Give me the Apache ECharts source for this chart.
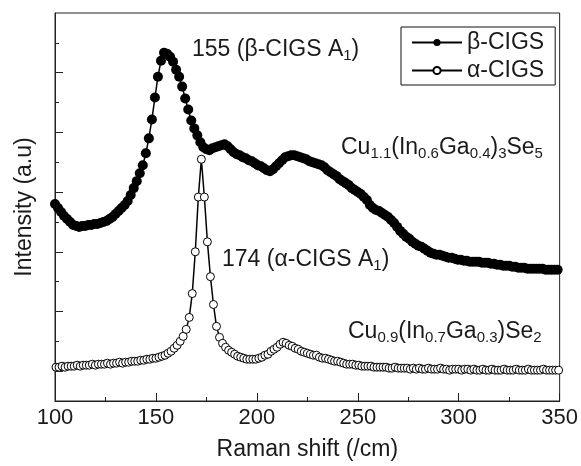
<!DOCTYPE html>
<html>
<head>
<meta charset="utf-8">
<script src="https://cdn.jsdelivr.net/npm/echarts@6/dist/echarts.min.js"></script>
<style>
html,body{margin:0;padding:0;background:#fff;}
#c{width:581px;height:466px;}
</style>
</head>
<body>
<div id="c"></div>
<script>
// Raman shift sampling (cm^-1)
const betaStart = 100, alphaStart = 100.5, shiftStep = 1.5;
// beta-CIGS intensity (a.u.), one value every 1.5 cm^-1 from 100 to 349
const betaIntensity = [
198,194,190,186,183,180,177,176,175,176,176,177,177,178,178,179,180,181,183,185,
188,191,194,197,201,207,214,221,229,237,249,264,283,305,326,342,350,349,346,341,
333,326,316,304,293,282,274,267,260,255,253,252,254,255,256,257,258,256,253,250,
248,247,245,244,242,241,239,237,236,234,232,231,233,236,239,242,245,246,247,247,
246,245,244,243,241,240,239,238,237,235,232,230,228,226,223,221,219,217,214,212,
210,208,205,202,197,194,192,191,189,187,185,182,179,175,171,168,165,163,160,158,
156,155,153,151,149,148,147,147,146,145,144,144,143,142,142,141,141,140,140,140,
140,139,139,139,138,138,137,137,136,136,136,135,135,134,134,134,133,133,133,133,
133,133,132,132,132,132,132
];
// alpha-CIGS intensity (a.u.), one value every 1.5 cm^-1 from 100.5 to 349.5
const alphaIntensity = [
34,34,35,34,35,35,35,36,35,36,36,36,37,36,37,37,37,38,37,38,
38,39,38,39,39,40,40,40,41,41,42,42,43,43,44,45,46,48,50,53,
56,60,65,72,84,108,150,205,243,205,160,125,97,75,64,58,54,51,49,47,
45,44,43,42,42,42,42,43,44,46,47,50,52,54,57,59,58,56,55,53,
52,50,49,48,47,46,46,44,43,43,42,41,40,40,39,38,37,37,37,36,
36,35,35,35,35,34,34,34,34,34,33,33,34,33,33,33,33,32,33,32,
33,32,32,33,32,32,32,33,32,32,31,32,32,32,31,32,32,31,32,31,
31,32,31,31,32,31,31,31,32,31,31,31,32,31,31,31,32,31,31,31,
31,32,31,31,31,31,31
];
const seriesNames = ['β-CIGS', 'α-CIGS'];
const xTicks = [100, 150, 200, 250, 300, 350];
const yMajorTicks = [30, 90, 150, 210, 270, 330];
const yMinorTicks = [60, 120, 180, 240, 300, 360];

function pairs(start, vals) {
  return vals.map((v, i) => [+(start + i * shiftStep).toFixed(2), v]);
}

const FONT = "'Liberation Sans', Arial, sans-serif";
const chart = echarts.init(document.getElementById('c'), null, {renderer: 'canvas'});

const richSub = {
  s: {fontSize: 15, fontFamily: FONT, fill: '#1a1a1a', verticalAlign: 'bottom', lineHeight: 16}
};
function annot(left, top, text) {
  return {
    type: 'text', left: left, top: top, z: 100,
    style: {
      text: text, fontSize: 23, fontFamily: FONT, fill: '#1a1a1a',
      lineHeight: 26, rich: richSub
    }
  };
}

const betaData = pairs(betaStart, betaIntensity);
const alphaData = pairs(alphaStart, alphaIntensity);
const betaItem = {color: '#000', borderColor: '#000', borderWidth: 0};
const alphaItem = {color: '#fff', borderColor: '#000', borderWidth: 1};

chart.setOption({
  animation: false,
  backgroundColor: '#fff',
  grid: {left: 55, right: 17, top: 13, bottom: 63, show: true, borderColor: '#222', borderWidth: 1, backgroundColor: 'transparent'},
  legend: {
    data: seriesNames,
    orient: 'vertical',
    left: 401, top: 27,
    padding: [4, 11, 3, 10],
    itemGap: 5,
    itemWidth: 50, itemHeight: 9,
    borderColor: '#111', borderWidth: 1,
    textStyle: {fontSize: 23, fontFamily: FONT, color: '#1a1a1a', lineHeight: 22}
  },
  xAxis: {
    type: 'value', min: 100, max: 350, interval: 50,
    name: 'Raman shift (/cm)', nameLocation: 'middle', nameGap: 37,
    nameTextStyle: {fontSize: 23, fontFamily: FONT, color: '#1a1a1a'},
    axisLine: {show: true, lineStyle: {color: '#222', width: 1}},
    axisTick: {show: true, inside: true, length: 8, lineStyle: {color: '#222'}},
    minorTick: {show: true, splitNumber: 2, length: 4, lineStyle: {color: '#222'}},
    axisLabel: {fontSize: 22, fontFamily: FONT, color: '#1a1a1a', margin: 6,
      customValues: xTicks},
    splitLine: {show: false}
  },
  yAxis: [{
    type: 'value', min: 0, max: 390,
    name: 'Intensity (a.u)', nameLocation: 'middle', nameGap: 19,
    nameTextStyle: {fontSize: 23, fontFamily: FONT, color: '#1a1a1a'},
    axisLine: {show: true, lineStyle: {color: '#222', width: 1}},
    axisTick: {show: true, inside: true, length: 8, customValues: yMajorTicks, lineStyle: {color: '#222'}},
    axisLabel: {show: false},
    splitLine: {show: false}
  }, {
    type: 'value', min: 0, max: 390, position: 'left', offset: 0,
    axisLine: {show: false},
    axisTick: {show: true, inside: true, length: 4, customValues: yMinorTicks, lineStyle: {color: '#222'}},
    axisLabel: {show: false},
    splitLine: {show: false}
  }],
  series: [{
    name: seriesNames[0], type: 'line', yAxisIndex: 0,
    data: betaData,
    symbol: 'circle', symbolSize: 10, showAllSymbol: true,
    itemStyle: betaItem,
    lineStyle: {color: '#000', width: 1.5},
    z: 2
  }, {
    name: seriesNames[1], type: 'line', yAxisIndex: 0,
    data: alphaData,
    symbol: 'circle', symbolSize: 8, showAllSymbol: true,
    itemStyle: alphaItem,
    lineStyle: {color: '#000', width: 1.5},
    z: 3
  }],
  graphic: [
    annot(192, 37, '155 (β-CIGS A{s|1})'),
    annot(341, 135, 'Cu{s|1.1}(In{s|0.6}Ga{s|0.4}){s|3}Se{s|5}'),
    annot(222, 247, '174 (α-CIGS A{s|1})'),
    annot(348, 319, 'Cu{s|0.9}(In{s|0.7}Ga{s|0.3})Se{s|2}')
  ]
});
</script>
</body>
</html>
